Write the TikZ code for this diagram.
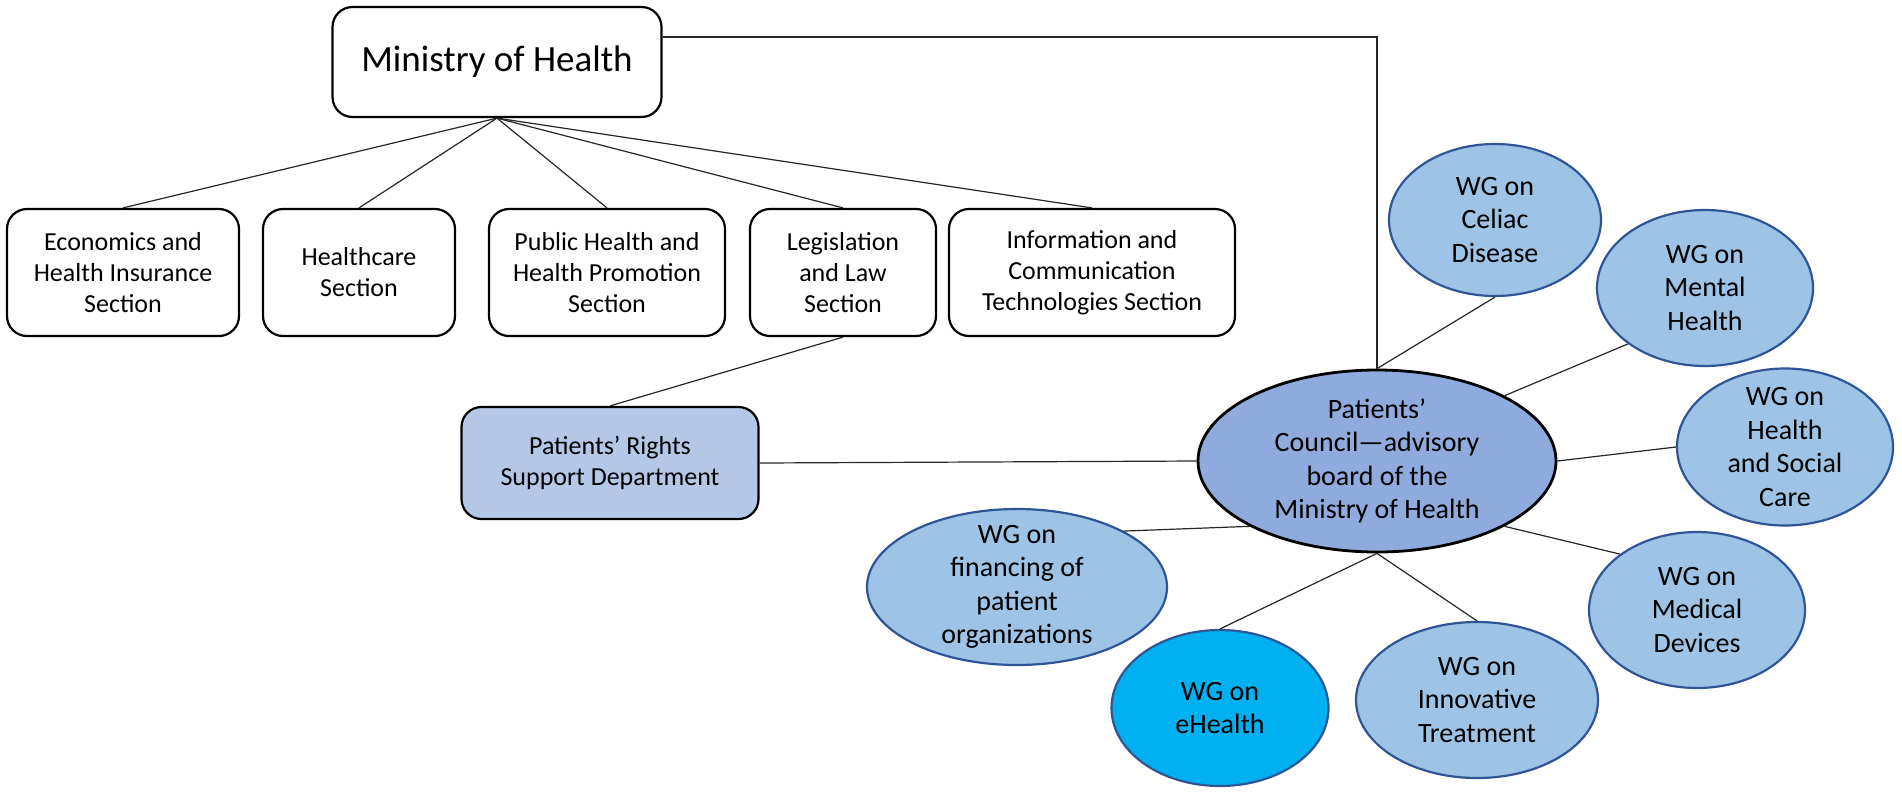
\documentclass[tikz,border=0pt]{standalone}
\usepackage{fontspec}
\setmainfont{Carlito}
\usetikzlibrary{shapes.geometric}
\definecolor{rightsfill}{HTML}{B4C7E7}
\definecolor{councilfill}{HTML}{8FAADC}
\definecolor{wgfill}{HTML}{9DC3E6}
\definecolor{wgborder}{HTML}{2F5597}
\definecolor{ehfill}{HTML}{00B0F0}
\begin{document}
\begin{tikzpicture}[x=1pt,y=-1pt,
  box/.style={draw=black, line width=2.2pt, rounded corners=20pt, fill=white, align=center, inner sep=0pt, font=\fontsize{26}{31}\selectfont},
  wg/.style={ellipse, draw=wgborder, line width=2.2pt, fill=wgfill, align=center, inner xsep=0pt, inner ysep=-30pt, font=\fontsize{28}{33.5}\selectfont},
  link/.style={draw=black!85, line width=1.2pt}]
\useasboundingbox (0,0) rectangle (1902,793);
% top hierarchy
\node[box, minimum width=329pt, minimum height=110pt, font=\fontsize{37}{42}\selectfont] (ministry) at (497,62) {Ministry of Health};
\node[box, minimum width=232pt, minimum height=127pt] (econ) at (123,272.5) {Economics and\\Health Insurance\\Section};
\node[box, minimum width=192pt, minimum height=127pt] (hc) at (359,272.5) {Healthcare\\Section};
\node[box, minimum width=236pt, minimum height=127pt] (ph) at (607,272.5) {Public Health and\\Health Promotion\\Section};
\node[box, minimum width=186pt, minimum height=127pt] (leg) at (843,272.5) {Legislation\\and Law\\Section};
\node[box, minimum width=286pt, minimum height=127pt] (ict) at (1092,272.5) {Information and\\Communication\\Technologies Section};
\node[box, fill=rightsfill, minimum width=297pt, minimum height=112pt] (rights) at (610,463) {Patients’ Rights\\Support Department};
% council and working groups
\node[wg, draw=black, fill=councilfill, line width=2.8pt, minimum width=358pt, minimum height=182pt] (council) at (1377,461) {Patients’\\Council—advisory\\board of the\\Ministry of Health};
\node[wg, minimum width=212pt, minimum height=152pt] (celiac) at (1495,220) {WG on\\Celiac\\Disease};
\node[wg, minimum width=216pt, minimum height=156pt] (mental) at (1705,288) {WG on\\Mental\\Health};
\node[wg, minimum width=216pt, minimum height=157pt] (hsc) at (1785,447) {WG on\\Health\\and Social\\Care};
\node[wg, minimum width=216pt, minimum height=156pt] (med) at (1697,610) {WG on\\Medical\\Devices};
\node[wg, minimum width=242pt, minimum height=156pt] (innov) at (1477,700) {WG on\\Innovative\\Treatment};
\node[wg, fill=ehfill, minimum width=217pt, minimum height=156pt] (ehealth) at (1220,708) {WG on\\eHealth};
\node[wg, minimum width=300pt, minimum height=156pt] (fin) at (1017,587) {WG on\\financing of\\patient\\organizations};
\coordinate (mline) at ([yshift=25pt]ministry.east);
% connectors
\draw[link] (ministry.south) -- (econ.north);
\draw[link] (ministry.south) -- (hc.north);
\draw[link] (ministry.south) -- (ph.north);
\draw[link] (ministry.south) -- (leg.north);
\draw[link] (ministry.south) -- (ict.north);
\draw[link] (leg.south) -- (rights.north);
\draw[link] (rights.east) -- (council.west);
\draw[link] (council.north) -- (council.north |- mline) -- (mline);
\draw[link] (council.north) -- (celiac.south);
\draw[link] (council.north east) -- (mental.south west);
\draw[link] (council.east) -- (hsc.west);
\draw[link] (council.south east) -- (med.north west);
\draw[link] (council.south) -- (innov.north);
\draw[link] (council.south) -- (ehealth.north);
\draw[link] (council.south west) -- (fin.north east);
\end{tikzpicture}
\end{document}
